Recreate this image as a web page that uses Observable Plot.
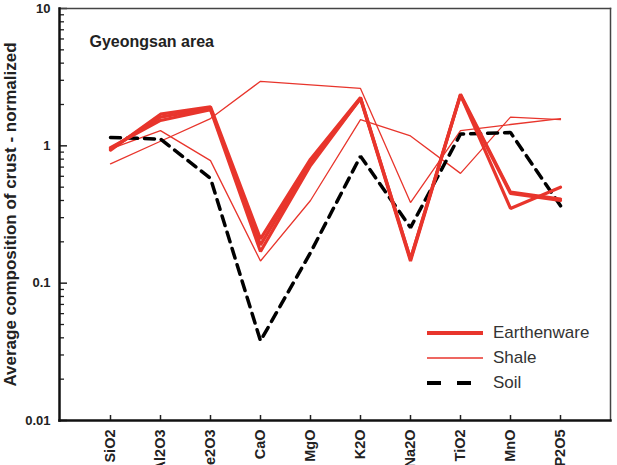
<!DOCTYPE html>
<html>
<head>
<meta charset="utf-8">
<script src="https://cdn.jsdelivr.net/npm/d3@7"></script>
<script src="https://cdn.jsdelivr.net/npm/@observablehq/plot@0.6"></script>
<style>
  html, body { margin: 0; padding: 0; background: #fff; }
  #chart { position: relative; width: 617px; height: 465px; overflow: hidden; font-family: "Liberation Sans", Arial, sans-serif; }
  #legend { position: absolute; left: 427px; top: 320px; color: #333; font-size: 17px; }
  #legend .row { display: flex; align-items: center; height: 25.3px; }
  #legend svg { width: 58px; height: 10px; margin-right: 8px; }
</style>
</head>
<body>
<div id="chart"></div>
<script>
// Oxides along the x axis
const oxides = ["SiO2", "Al2O3", "Fe2O3", "CaO", "MgO", "K2O", "Na2O", "TiO2", "MnO", "P2O5"];

// Crust-normalized averages, one array per sample
const earthenwareA = [0.93, 1.70, 1.92, 0.21, 0.80, 2.25, 0.150, 2.38, 0.46, 0.41];
const earthenwareB = [0.95, 1.62, 1.87, 0.19, 0.76, 2.20, 0.145, 2.35, 0.35, 0.50];
const earthenwareC = [0.97, 1.53, 1.83, 0.17, 0.72, 2.22, 0.150, 2.33, 0.45, 0.40];
const shaleA = [0.74, 1.08, 1.58, 2.95, 2.78, 2.62, 0.386, 1.29, 1.43, 1.58];
const shaleB = [0.95, 1.29, 0.78, 0.145, 0.40, 1.55, 1.18, 0.63, 1.62, 1.55];
const soil = [1.15, 1.12, 0.58, 0.038, 0.167, 0.84, 0.254, 1.22, 1.25, 0.366];

// Axis ticks
const majorTicks = [0.01, 0.1, 1, 10];
const minorTicks = [0.01, 0.1, 1].flatMap(d => [2, 3, 4, 5, 6, 7, 8, 9].map(k => +(k * d).toPrecision(3)));

const series = [
  {name: "Earthenware", values: earthenwareA},
  {name: "Earthenware", values: earthenwareB},
  {name: "Earthenware", values: earthenwareC},
  {name: "Shale", values: shaleA},
  {name: "Shale", values: shaleB},
  {name: "Soil", values: soil}
];
const rows = name => series.filter(s => s.name === name)
  .flatMap((s, i) => s.values.map((v, j) => ({id: name + i, oxide: oxides[j], value: v})));

const red = "#e8352c";
const W = 617, H = 465;
const mL = 59, mR = 7, mT = 8, mB = 45;
const plotW = W - mL - mR, plotH = H - mT - mB;

const chart = Plot.plot({
  width: W,
  height: H,
  marginLeft: mL,
  marginRight: mR,
  marginTop: mT,
  marginBottom: mB,
  style: {fontFamily: "'Liberation Sans', Arial, sans-serif", color: "#222", background: "#fff"},
  x: {type: "point", domain: oxides, padding: 1},
  y: {type: "log", domain: [0.01, 10]},
  marks: [
    // minor and major ticks, pointing inward
    Plot.ruleY(minorTicks, {stroke: "#222", strokeWidth: 1.3, insetRight: plotW - 5}),
    Plot.ruleY(majorTicks, {stroke: "#222", strokeWidth: 1.5, insetRight: plotW - 8}),
    Plot.ruleX(oxides, {stroke: "#222", strokeWidth: 1.5, insetTop: plotH - 5}),
    Plot.axisY({ticks: majorTicks, tickFormat: d => String(d), tickSize: 0, tickPadding: 9,
      fontSize: 13, fontWeight: "bold", label: null}),
    Plot.axisX({tickRotate: -90, tickSize: 0, tickPadding: 9, fontSize: 14.5, fontWeight: "bold", label: null}),
    Plot.text(["Average composition of crust - normalized"], {
      frameAnchor: "left", textAnchor: "middle", rotate: -90, dx: -49, dy: 0,
      fontSize: 17, fontWeight: "bold", fill: "#222"
    }),
    Plot.text(["Gyeongsan area"], {
      frameAnchor: "top-left", dx: 30, dy: 27, textAnchor: "start", fontSize: 16, fontWeight: "bold", fill: "#222"
    }),
    // data
    Plot.line(rows("Shale"), {x: "oxide", y: "value", z: "id", stroke: red, strokeWidth: 1.3, strokeLinejoin: "miter"}),
    Plot.line(rows("Soil"), {x: "oxide", y: "value", z: "id", stroke: "#000", strokeWidth: 3.5,
      strokeDasharray: "10,7", strokeLinejoin: "miter"}),
    Plot.line(rows("Earthenware"), {x: "oxide", y: "value", z: "id", stroke: red, strokeWidth: 3.2, strokeLinejoin: "miter"}),
    // plot frame: heavy axes on left/bottom, light border top/right
    Plot.frame({anchor: "top", stroke: "#444", strokeWidth: 1.5}),
    Plot.frame({anchor: "right", stroke: "#444", strokeWidth: 1.5}),
    Plot.frame({anchor: "left", stroke: "#111", strokeWidth: 2.5}),
    Plot.frame({anchor: "bottom", stroke: "#111", strokeWidth: 2.5})
  ]
});

const root = document.getElementById("chart");
root.appendChild(chart);

// Legend
const legendItems = [
  {name: "Earthenware", stroke: red, width: 4, dash: null},
  {name: "Shale", stroke: red, width: 1.5, dash: null},
  {name: "Soil", stroke: "#000", width: 4, dash: "14,16"}
];
const legend = document.createElement("div");
legend.id = "legend";
for (const item of legendItems) {
  const row = document.createElement("div");
  row.className = "row";
  row.innerHTML = `<svg viewBox="0 0 58 10"><line x1="0" x2="56" y1="5" y2="5" stroke="${item.stroke}" stroke-width="${item.width}" ${item.dash ? `stroke-dasharray="${item.dash}"` : ""}/></svg><span>${item.name}</span>`;
  legend.appendChild(row);
}
root.appendChild(legend);
</script>
</body>
</html>
